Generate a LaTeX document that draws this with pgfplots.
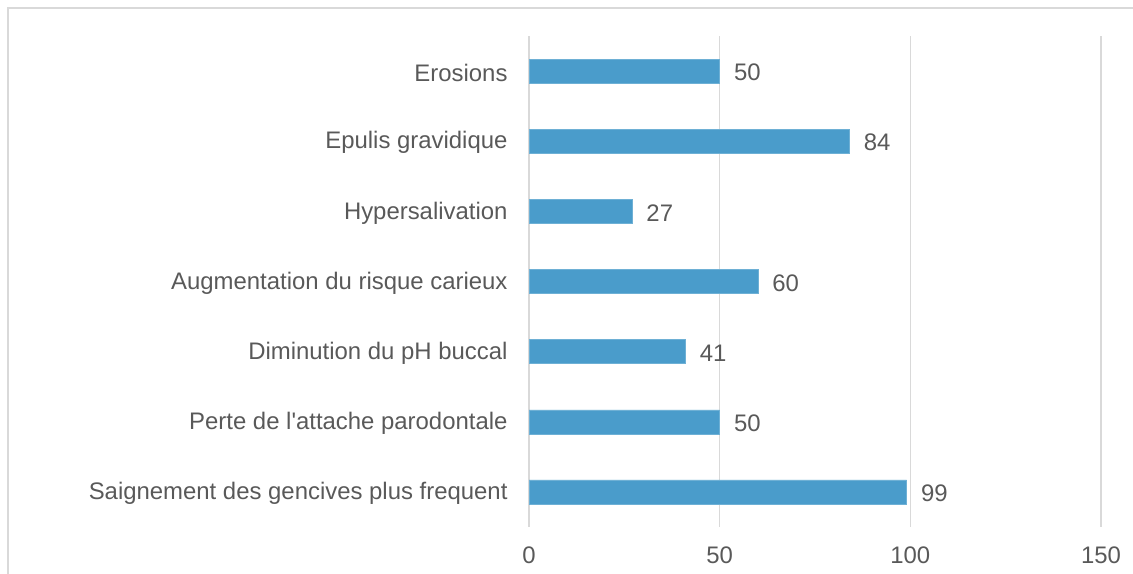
\documentclass[border=0pt]{standalone}
\usepackage{pgfplots}
\pgfplotsset{compat=1.18}
\usepackage{fontspec}
\setmainfont{Liberation Sans}[Ligatures=TeXOff]
\definecolor{barblue}{HTML}{4A9CCB}
\definecolor{txtgray}{HTML}{595959}
\definecolor{gridgray}{HTML}{D9D9D9}
\begin{document}
\begin{tikzpicture}[x=1bp,y=1bp]
\useasboundingbox (0,0) rectangle (1133,574);
\draw[gridgray,line width=1.5bp] (8,-2) -- (8,566) -- (1140,566);
\begin{axis}[
  at={(529bp,47bp)}, anchor=south west,
  scale only axis, width=572bp, height=491bp,
  xbar, bar width=24bp,
  xmin=0, xmax=150, ymin=-0.5, ymax=6.5,
  xtick={0,50,100,150},
  ytick={0,1,2,3,4,5,6},
  yticklabels={Saignement des gencives plus frequent,Perte de l'attache parodontale,Diminution du pH buccal,Augmentation du risque carieux,Hypersalivation,Epulis gravidique,Erosions},
  axis line style={draw=none},
  major tick length=0pt,
  xmajorgrids, grid style={gridgray,line width=1.2bp},
  tick label style={font=\fontsize{24}{28}\selectfont, text=txtgray},
  /pgf/number format/assume math mode=true,
  xticklabel style={yshift=-16bp},
  yticklabel style={xshift=-18bp, yshift=-1.5bp},
  nodes near coords,
  every node near coord/.append style={font=\fontsize{24}{28}\selectfont, text=txtgray, anchor=west, xshift=11bp, yshift=-1.5bp},
]
\addplot[fill=barblue, draw=barblue!80!white] coordinates {(99,0) (50,1) (41,2) (60,3) (27,4) (84,5) (50,6)};
\end{axis}
\end{tikzpicture}
\end{document}
